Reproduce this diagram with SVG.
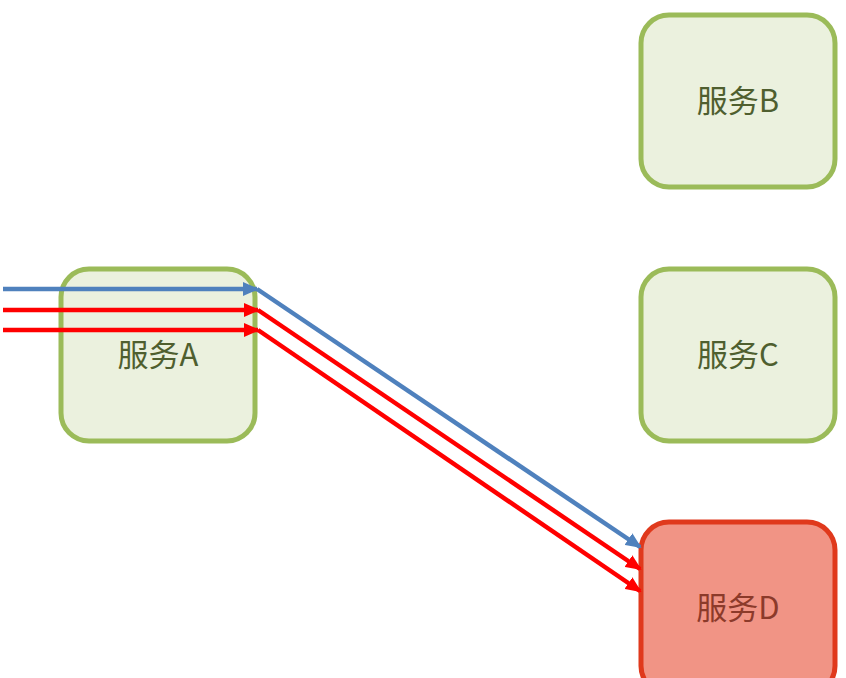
<svg xmlns="http://www.w3.org/2000/svg" width="846" height="678" viewBox="0 0 846 678">
<defs>
<marker id="ab" markerWidth="16" markerHeight="14" refX="14" refY="7" orient="auto" markerUnits="userSpaceOnUse"><path d="M0,0 L16,7 L0,14 z" fill="#4f81bd"/></marker>
<marker id="ar" markerWidth="16" markerHeight="14" refX="14" refY="7" orient="auto" markerUnits="userSpaceOnUse"><path d="M0,0 L16,7 L0,14 z" fill="#ff0000"/></marker>
<style>
.g rect{fill:#ebf1de;stroke:#9bbb59;stroke-width:5}
.r rect{fill:#f19485;stroke:#e0391c;stroke-width:5}
text{font-family:"Noto Sans CJK SC","Noto Sans",sans-serif;font-size:31px;text-anchor:middle}
.g text{fill:#4f5f2f}
.r text{fill:#8c3a2a}
.c line{fill:none;stroke-width:4.5}
.b{stroke:#4f81bd}
.rd{stroke:#ff0000}
</style>
</defs>
<rect width="846" height="678" fill="#ffffff"/>
<g id="nodeA" class="g"><rect x="61" y="269" width="194" height="172" rx="28"/><text x="158" y="366">服务A</text></g>
<g id="nodeB" class="g"><rect x="641" y="15" width="194" height="172" rx="28"/><text x="738" y="112">服务B</text></g>
<g id="nodeC" class="g"><rect x="641" y="269" width="194" height="172" rx="28"/><text x="738" y="366">服务C</text></g>
<g id="nodeD" class="r"><rect x="641" y="522" width="194" height="172" rx="28"/><text x="738" y="619">服务D</text></g>
<g id="connectors" class="c">
<line class="b" x1="3" y1="289" x2="257" y2="289" marker-end="url(#ab)"/>
<line class="rd" x1="3" y1="310" x2="258" y2="310" marker-end="url(#ar)"/>
<line class="rd" x1="3" y1="330" x2="258" y2="330" marker-end="url(#ar)"/>
<line class="b" x1="257" y1="289" x2="640" y2="547" marker-end="url(#ab)"/>
<line class="rd" x1="258" y1="310" x2="640" y2="569" marker-end="url(#ar)"/>
<line class="rd" x1="258" y1="330" x2="640" y2="591" marker-end="url(#ar)"/>
</g>
</svg>
